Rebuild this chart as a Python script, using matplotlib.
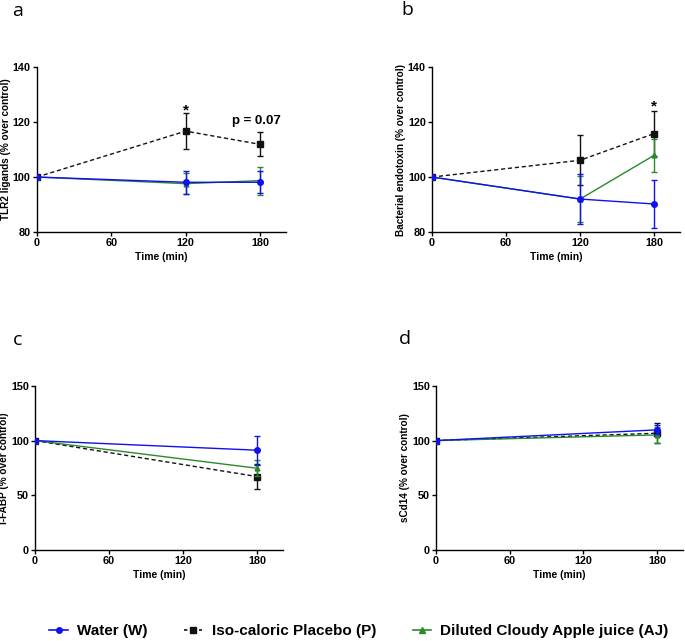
import matplotlib
matplotlib.use("Agg")
import matplotlib.pyplot as plt
from matplotlib.lines import Line2D

plt.rcParams["font.family"] = ["Liberation Sans", "DejaVu Sans"]
plt.rcParams["font.weight"] = "bold"

# data
time_ab = [0, 120, 180]
time_cd = [0, 180]

tlr2_water = [100, 98.1, 98.1]
tlr2_water_err = [0, 4.2, 4.0]
tlr2_placebo = [100, 116.7, 111.9]
tlr2_placebo_err = [0, 6.5, 4.4]
tlr2_aj = [100, 97.6, 98.7]
tlr2_aj_err = [0, 3.8, 5.1]

endo_water = [100, 92.0, 90.2]
endo_water_err = [0, 9.0, 8.7]
endo_placebo = [100, 106.1, 115.8]
endo_placebo_err = [0, 9.1, 8.2]
endo_aj = [100, 92.0, 107.9]
endo_aj_err = [0, 8.5, 6.0]

fabp_water = [100, 91.2]
fabp_water_err = [0, 13.0]
fabp_placebo = [100, 67.1]
fabp_placebo_err = [0, 11.0]
fabp_aj = [100, 74.7]
fabp_aj_err = [0, 7.5]

cd14_water = [100, 109.8]
cd14_water_err = [0, 4.0]
cd14_placebo = [100, 106.7]
cd14_placebo_err = [0, 9.0]
cd14_aj = [100, 105.2]
cd14_aj_err = [0, 7.6]

legend_labels = ["Water (W)", "Iso-caloric Placebo (P)", "Diluted Cloudy Apple juice (AJ)"]

BLUE = "#1010f0"
GREEN = "#2a8a2a"
BLACK = "#111111"

fig = plt.figure(figsize=(6.85, 6.41), dpi=100)

panels = [
    ([0.054, 0.638, 0.3635, 0.2574], "a", (0.026, 0.983), time_ab, (80, 140), [80, 100, 120, 140],
     "TLR2 ligands (% over control)",
     (tlr2_water, tlr2_water_err), (tlr2_placebo, tlr2_placebo_err), (tlr2_aj, tlr2_aj_err)),
    ([0.6307, 0.638, 0.362, 0.2574], "b", (0.594, 0.984), time_ab, (80, 140), [80, 100, 120, 140],
     "Bacterial endotoxin (% over control)",
     (endo_water, endo_water_err), (endo_placebo, endo_placebo_err), (endo_aj, endo_aj_err)),
    ([0.0511, 0.142, 0.362, 0.256], "c", (0.025, 0.470), time_cd, (0, 150), [0, 50, 100, 150],
     "i-FABP (% over control)",
     (fabp_water, fabp_water_err), (fabp_placebo, fabp_placebo_err), (fabp_aj, fabp_aj_err)),
    ([0.6365, 0.142, 0.3606, 0.256], "d", (0.591, 0.471), time_cd, (0, 150), [0, 50, 100, 150],
     "sCd14 (% over control)",
     (cd14_water, cd14_water_err), (cd14_placebo, cd14_placebo_err), (cd14_aj, cd14_aj_err)),
]

for rect, letter, lpos, t, ylim, yticks, ylabel, water, placebo, aj in panels:
    ax = fig.add_axes(rect)
    ax.errorbar(t, placebo[0], yerr=placebo[1], color=BLACK, ls=(0, (3, 2)), lw=1,
                marker="s", ms=4, capsize=2.5, elinewidth=1, capthick=1, zorder=2)
    ax.errorbar(t, aj[0], yerr=aj[1], color=GREEN, ls="-", lw=1,
                marker="^", ms=3.5, capsize=2.5, elinewidth=1, capthick=1, zorder=3)
    ax.errorbar(t, water[0], yerr=water[1], color=BLUE, ls="-", lw=1,
                marker="o", ms=4, capsize=2.5, elinewidth=1, capthick=1, zorder=4)
    ax.set_xlim(0, 201)
    ax.set_ylim(*ylim)
    ax.set_xticks([0, 60, 120, 180])
    ax.set_yticks(yticks)
    ax.spines["top"].set_visible(False)
    ax.spines["right"].set_visible(False)
    for s in ("left", "bottom"):
        ax.spines[s].set_linewidth(1)
    ax.tick_params(direction="out", length=3, width=1, labelsize=7.8, pad=1.5)
    for lab in ax.get_xticklabels() + ax.get_yticklabels():
        lab.set_fontweight("bold")
    ax.set_xlabel("Time (min)", fontsize=7.5, fontweight="bold", labelpad=3)
    ax.set_ylabel(ylabel, fontsize=7.2, fontweight="bold", labelpad=1)
    fig.text(lpos[0], lpos[1], letter, fontsize=14, fontweight="normal",
             family=["Open Sans", "DejaVu Sans"], va="center", ha="center")
    if letter == "a":
        ax.text(120, tlr2_placebo[1] + tlr2_placebo_err[1] - 1.5, "*", ha="center", va="bottom",
                fontsize=11, fontweight="bold")
        ax.text(177, 120.5, "p = 0.07", ha="center", va="center", fontsize=9.5, fontweight="bold")
    if letter == "b":
        ax.text(180, endo_placebo[2] + endo_placebo_err[2] - 0.8, "*", ha="center", va="bottom",
                fontsize=11, fontweight="bold")

handles = [
    Line2D([], [], color=BLUE, lw=1.2, marker="o", ms=4),
    Line2D([], [], color=BLACK, lw=1.2, ls=(0, (2, 2.5)), marker="s", ms=4),
    Line2D([], [], color=GREEN, lw=1.2, marker="^", ms=4),
]
fig.legend(handles, legend_labels, loc="center", bbox_to_anchor=(0.524, 0.0156), ncol=3,
           frameon=False, prop={"size": 11, "weight": "bold"}, handlelength=1.2,
           columnspacing=2.4, handletextpad=0.6, borderaxespad=0)

fig.savefig("out.png", dpi=100)
